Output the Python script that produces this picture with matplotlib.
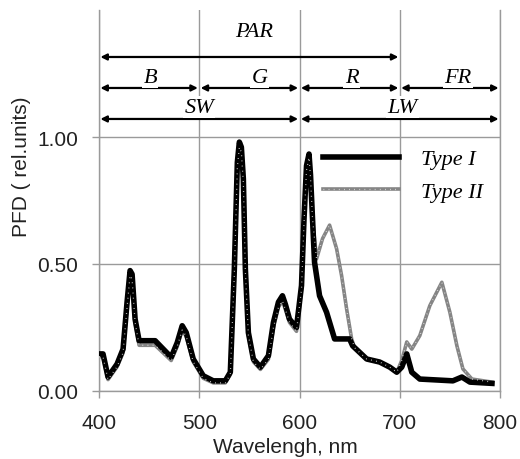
import matplotlib
matplotlib.use("Agg")
import matplotlib.pyplot as plt

# ---- data ----
wl_type1 = [400, 404, 409, 418, 424, 428, 431, 433, 436, 440, 456, 472, 478, 483, 487,
            494, 504, 514, 526, 531, 535, 538, 540, 542, 544, 546, 549, 554, 561, 569,
            574, 579, 583, 586, 590, 597, 602, 604.5, 607, 609.5, 611, 613, 615, 620,
            627, 635, 650, 653, 667, 680, 690, 697, 702, 707, 712, 720, 753, 762, 770, 792]
pfd_type1 = [0.146, 0.146, 0.055, 0.106, 0.165, 0.35, 0.474, 0.46, 0.283, 0.198, 0.198,
             0.133, 0.19, 0.257, 0.23, 0.126, 0.06, 0.04, 0.04, 0.074, 0.48, 0.9, 0.98,
             0.96, 0.835, 0.48, 0.23, 0.126, 0.094, 0.139, 0.27, 0.35, 0.375, 0.34, 0.283,
             0.25, 0.415, 0.677, 0.887, 0.933, 0.85, 0.677, 0.507, 0.375, 0.31, 0.205,
             0.205, 0.178, 0.126, 0.114, 0.094, 0.074, 0.094, 0.146, 0.074, 0.047, 0.04,
             0.055, 0.035, 0.03]

wl_type2 = [400, 404, 409, 418, 424, 428, 431, 433, 436, 440, 456, 472, 478, 483, 487,
            494, 504, 514, 526, 531, 535, 538, 540, 542, 544, 546, 549, 554, 561, 569,
            574, 579, 583, 586, 590, 597, 602, 604.5, 607, 609.5, 611, 613, 617, 623,
            630, 637, 642, 647, 652, 655, 667, 680, 690, 697, 702, 707, 712, 720, 730,
            742, 750, 757, 763, 772, 792]
pfd_type2 = [0.135, 0.135, 0.045, 0.095, 0.15, 0.33, 0.455, 0.44, 0.27, 0.18, 0.18, 0.12,
             0.175, 0.24, 0.215, 0.115, 0.05, 0.032, 0.032, 0.065, 0.46, 0.88, 0.96, 0.94,
             0.82, 0.47, 0.22, 0.115, 0.085, 0.125, 0.25, 0.33, 0.355, 0.32, 0.27, 0.235,
             0.4, 0.66, 0.87, 0.92, 0.84, 0.677, 0.52, 0.6, 0.653, 0.56, 0.454, 0.323,
             0.205, 0.17, 0.126, 0.114, 0.094, 0.074, 0.12, 0.193, 0.165, 0.218, 0.336,
             0.428, 0.31, 0.178, 0.087, 0.047, 0.035]

series_labels = ["Type I", "Type II"]
x_ticks = [400, 500, 600, 700, 800]
y_ticks = [0.0, 0.5, 1.0]
y_tick_labels = ["0.00", "0.50", "1.00"]

# spectral bands
band_labels = ["PAR", "B", "G", "R", "FR", "SW", "LW"]
band_start = [400, 400, 500, 600, 700, 400, 600]
band_end = [700, 500, 600, 700, 800, 600, 800]
band_level = [1.315, 1.193, 1.193, 1.193, 1.193, 1.071, 1.071]
label_x = [555, 451, 560, 652, 758, 500, 703]
label_y = [1.417, 1.236, 1.236, 1.236, 1.236, 1.118, 1.118]

# ---- figure ----
W, H = 520, 460
fig = plt.figure(figsize=(W / 100, H / 100), dpi=100)
ax_left, ax_right, ax_bottom = 99, 500, 392
px_per_unit = 254
ax_top = ax_bottom - 1.5 * px_per_unit
ax = fig.add_axes([ax_left / W, 1 - ax_bottom / H, (ax_right - ax_left) / W,
                   (ax_bottom - ax_top) / H])

sans = "Liberation Sans"
serif = "Liberation Serif"
grid_c = "#9a9a9a"

ax.set_xlim(400, 800)
ax.set_ylim(0, 1.5)

ax.spines["top"].set_visible(False)
for s in ["left", "right", "bottom"]:
    ax.spines[s].set_color(grid_c)
    ax.spines[s].set_linewidth(1.0)

for xv in x_ticks:
    ax.axvline(xv, color=grid_c, lw=1.0, zorder=0)
for yv in y_ticks:
    ax.axhline(yv, color=grid_c, lw=1.0, zorder=0)

ax.set_xticks(x_ticks)
ax.set_xticklabels([str(v) for v in x_ticks], fontfamily=sans, fontsize=15)
ax.set_yticks(y_ticks)
ax.set_yticklabels(y_tick_labels, fontfamily=sans, fontsize=15)
ax.tick_params(axis="both", direction="out", length=5, width=1.0, color=grid_c,
               labelcolor="#222222")
ax.tick_params(axis="x", pad=11)
ax.tick_params(axis="y", pad=10)

# curves
l2, = ax.plot(wl_type2, pfd_type2, color="#858585", lw=2.6, zorder=2)
l1, = ax.plot(wl_type1, pfd_type1, color="black", lw=4.0, solid_joinstyle="round",
              zorder=3)
l2d, = ax.plot(wl_type2, pfd_type2, color="#e6e6e6", lw=0.9, dashes=(0.6, 3.5),
               zorder=4)

# band arrows
for lab, x0, x1, lev, lx, ly in zip(band_labels, band_start, band_end, band_level,
                                    label_x, label_y):
    ax.annotate("", xy=(x1, lev), xytext=(x0, lev),
                arrowprops=dict(arrowstyle="<|-|>", color="black", lw=1.6,
                                mutation_scale=9, shrinkA=1, shrinkB=1), zorder=5)
    ax.text(lx, ly, lab, fontfamily=serif, fontstyle="italic", fontsize=16,
            ha="center", va="center", zorder=6,
            bbox=dict(facecolor="white", edgecolor="none", pad=1.0))

# legend
leg = ax.legend([l1, (l2, l2d)], series_labels, loc="upper left",
                bbox_to_anchor=(0.532, 0.665), frameon=False,
                borderpad=0, handlelength=3.4, handletextpad=1.0, labelspacing=0.55,
                prop={"family": serif, "style": "italic", "size": 16})

# axis labels
fig.text(285 / W, 1 - 448 / H, "Wavelengh, nm", fontfamily=sans, fontsize=15,
         ha="center", va="center", color="#222222")
fig.text(22 / W, 1 - 167 / H, "PFD ( rel.units)", fontfamily=sans, fontsize=15,
         ha="center", va="center", rotation=90, color="#222222")

fig.savefig("out.png", dpi=100)
